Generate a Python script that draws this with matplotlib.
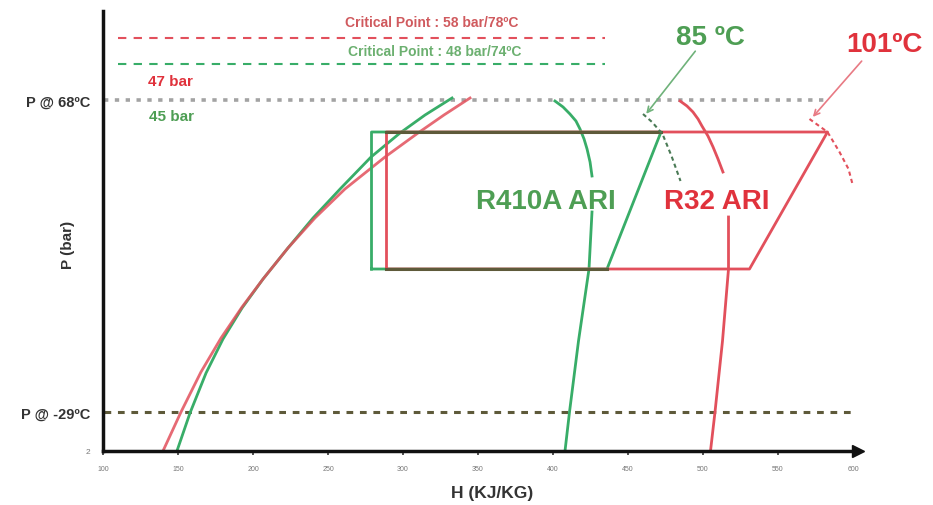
import matplotlib
matplotlib.use("Agg")
import matplotlib.pyplot as plt

plt.rcParams['font.family'] = ['Liberation Sans', 'DejaVu Sans']

# ---------------- data (schematic P-H diagram) ----------------
x_ticks = [100, 150, 200, 250, 300, 350, 400, 450, 500, 550, 600]
y_tick_pos = [0, 39, 351]
y_tick_labels = ['2', 'P @ -29ºC', 'P @ 68ºC']

# saturated liquid lines
r32_liq_h = [140, 152, 165.3, 178.7, 192.7, 206.7, 223.3, 241.3, 261.3, 288, 310, 327.3, 344.7]
r32_liq_p = [0, 39, 79, 113, 144, 172, 203, 233, 262, 294, 318, 336, 353]
r410_liq_h = [149.3, 158, 168.7, 180, 192.7, 206.7, 223.3, 240, 258.7, 278.7, 298, 314.7, 332.7]
r410_liq_p = [0, 38, 78, 112, 143, 172, 203, 233, 263, 294, 318, 336, 353]

# saturated vapour lines (lower / upper part, interrupted by labels)
r410_vap_low_h = [408, 411, 417, 424, 426]
r410_vap_low_p = [0, 39, 110, 182, 239]
r410_vap_up_h = [426, 424.7, 422.7, 420.7, 418, 415.3, 411.3, 406.7, 401.3]
r410_vap_up_p = [275, 289, 302, 312, 322, 330, 337, 344, 350]
r32_vap_low_h = [505, 508, 513, 517, 517, 517]
r32_vap_low_p = [0, 39, 110, 182, 212, 234]
r32_vap_up_h = [513.3, 510, 506.7, 503.3, 499.3, 496.7, 493.3, 489.3, 484.7]
r32_vap_up_p = [279, 292, 304, 315, 325, 332, 339, 345, 350]

# ARI cycles
r410_cycle_h = [279, 436, 472, 279, 279]
r410_cycle_p = [182, 182, 319, 319, 182]
r32_cycle_h = [289, 531, 583, 289, 289]
r32_cycle_p = [182, 182, 319, 319, 182]

# discharge isotherm arcs
r410_iso_h = [460, 466, 473, 479, 485]
r410_iso_p = [337, 329, 317, 295, 270]
r32_iso_h = [571, 583, 591, 597, 600]
r32_iso_p = [332, 319, 299, 282, 265]

# reference pressure levels
crit_r32_p = 413
crit_r410_p = 387
p_68 = 351
p_m29 = 39
crit_h_range = [110, 435]
p68_h_range = [101, 582]
pm29_h_range = [101, 600]

# annotation arrows (start, tip)
r410_arrow = [(496, 402), (461, 335)]
r32_arrow = [(607, 392), (572, 332)]

# ---------------- style ----------------
RED = '#e2505c'
GREEN = '#38ad68'
RED_TXT = '#e0323c'
GREEN_TXT = '#4e9e54'
OLIVE = '#5e5a3a'

fig = plt.figure(figsize=(9.33, 5.06), dpi=100)
ax = fig.add_axes([103 / 933, 54 / 506, 754.5 / 933, 440 / 506])
ax.set_xlim(100, 603)
ax.set_ylim(0, 440)

for s in ['top', 'right']:
    ax.spines[s].set_visible(False)
for s in ['left', 'bottom']:
    ax.spines[s].set_linewidth(2.5)
    ax.spines[s].set_color('#111111')
ax.plot(1, 0, '>', color='#111111', ms=9, transform=ax.get_yaxis_transform(), clip_on=False)
ax.plot(0, 1, '^', color='#111111', ms=9, transform=ax.get_xaxis_transform(), clip_on=False)

ax.set_xticks(x_ticks)
ax.set_xticklabels([str(v) for v in x_ticks], fontsize=5, color='#777777')
ax.tick_params(axis='x', length=3, width=1.2, pad=7, color='#333333')
ax.set_yticks(y_tick_pos)
ax.set_yticklabels(y_tick_labels)
ax.tick_params(axis='y', length=0, pad=9)
for lbl in ax.get_yticklabels():
    if lbl.get_text() == '2':
        lbl.set_fontsize(6)
        lbl.set_color('#777777')
    else:
        lbl.set_fontsize(10.5)
        lbl.set_fontweight('bold')
        lbl.set_color('#333333')

# reference lines
ax.plot(crit_h_range, [crit_r32_p] * 2, color=RED, lw=1.5, ls=(0, (4, 3.5)))
ax.plot(crit_h_range, [crit_r410_p] * 2, color=GREEN, lw=1.5, ls=(0, (4, 3.5)))
ax.plot(p68_h_range, [p_68] * 2, color='#a3a3a3', lw=2.6, ls=(0, (1.2, 1.8)))
ax.plot(pm29_h_range, [p_m29] * 2, color=OLIVE, lw=2.2, ls=(0, (2.2, 2.2)))

# saturation lines
ax.plot(r410_liq_h, r410_liq_p, color=GREEN, lw=2, solid_joinstyle='round')
ax.plot(r32_liq_h, r32_liq_p, color=RED, lw=2, alpha=0.85, solid_joinstyle='round')
ax.plot(r410_vap_low_h, r410_vap_low_p, color=GREEN, lw=2)
ax.plot(r410_vap_up_h, r410_vap_up_p, color=GREEN, lw=2)
ax.plot(r32_vap_low_h, r32_vap_low_p, color=RED, lw=2)
ax.plot(r32_vap_up_h, r32_vap_up_p, color=RED, lw=2)

# cycles
ax.plot(r410_cycle_h, r410_cycle_p, color=GREEN, lw=2)
ax.plot(r32_cycle_h, r32_cycle_p, color=RED, lw=2)
# overlapping parts of both cycles look dark
ov_left = max(r410_cycle_h[0], r32_cycle_h[0])
ax.plot([ov_left, r410_cycle_h[2]], [r410_cycle_p[2]] * 2, color=OLIVE, lw=2.2)
ax.plot([ov_left, r410_cycle_h[1]], [r410_cycle_p[0]] * 2, color=OLIVE, lw=2.2)

# isotherm arcs
ax.plot(r410_iso_h, r410_iso_p, color='#4a7a55', lw=1.5, ls=(0, (2, 1.6)))
ax.plot(r32_iso_h, r32_iso_p, color=RED, lw=1.5, ls=(0, (2, 1.6)))

# arrows
ax.annotate('', xy=r410_arrow[1], xytext=r410_arrow[0],
            arrowprops=dict(arrowstyle='->', color='#6fb27a', lw=1.2))
ax.annotate('', xy=r32_arrow[1], xytext=r32_arrow[0],
            arrowprops=dict(arrowstyle='->', color='#e87a84', lw=1.2), annotation_clip=False)

# texts
ax.text(319, 429, 'Critical Point : 58 bar/78ºC', color='#d05a5e', fontsize=10,
        fontweight='bold', ha='center', va='center')
ax.text(321, 400, 'Critical Point : 48 bar/74ºC', color='#6cb070', fontsize=10,
        fontweight='bold', ha='center', va='center')
ax.text(130, 370, '47 bar', color=RED_TXT, fontsize=11, fontweight='bold', ha='left', va='center')
ax.text(131, 335, '45 bar', color=GREEN_TXT, fontsize=11, fontweight='bold', ha='left', va='center')
ax.text(505, 414, '85 ºC', color=GREEN_TXT, fontsize=20, fontweight='bold', ha='center', va='center')
ax.text(621, 407, '101ºC', color=RED_TXT, fontsize=20, fontweight='bold', ha='center', va='center')
ax.text(395, 250, 'R410A ARI', color=GREEN_TXT, fontsize=20, fontweight='bold', ha='center', va='center')
ax.text(509, 250, 'R32 ARI', color=RED_TXT, fontsize=20, fontweight='bold', ha='center', va='center')

fig.text(492 / 933, 1 - 494 / 506, 'H (KJ/KG)', fontsize=12.5, fontweight='bold',
         color='#333333', ha='center', va='center')
fig.text(68 / 933, 1 - 245 / 506, 'P (bar)', fontsize=11, fontweight='bold',
         color='#333333', ha='center', va='center', rotation=90)

fig.savefig('out.png', dpi=100)
